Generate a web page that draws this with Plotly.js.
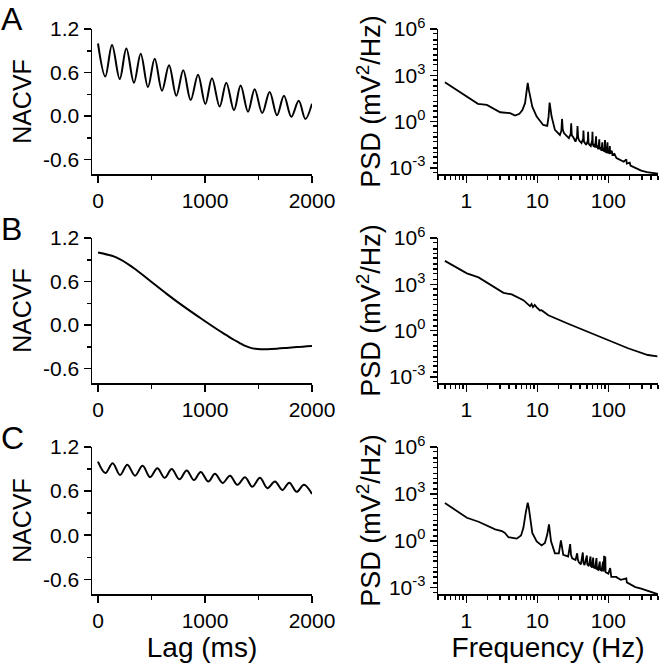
<!DOCTYPE html>
<html><head><meta charset="utf-8">
<script src="https://cdn.plot.ly/plotly-3.0.1.min.js"></script>
<style>html,body{margin:0;padding:0;background:#fff}</style>
</head><body><div id="chart" style="width:660px;height:665px"></div>
<script>
// ---- Left column: normalized autocovariance (NACVF) vs lag (ms) ----
const lagA = [0,68,131,203,265,336,399,467,530,598,664,732,797,866,935,1003,1065,1137,1199,1271,1333,1402,1464,1535,1604,1673,1738,1807,1876,1938,2000];
const nacvfA = [1.0,0.545,0.98,0.51,0.93,0.46,0.86,0.40,0.79,0.35,0.70,0.28,0.63,0.22,0.57,0.165,0.52,0.13,0.46,0.08,0.42,0.06,0.37,0.04,0.33,0.01,0.28,-0.01,0.21,-0.04,0.17];

const lagB = [0,175,330,486,642,797,953,1109,1200,1265,1320,1370,1420,1470,1520,1580,1670,1760,1857,2000];
const nacvfB = [1.0,0.93,0.79,0.61,0.43,0.26,0.10,-0.055,-0.14,-0.20,-0.245,-0.285,-0.312,-0.328,-0.334,-0.334,-0.327,-0.317,-0.305,-0.29];

const lagC = [0,69,137,206,274,346,417,486,555,623,689,760,829,897,960,1031,1093,1165,1234,1302,1374,1442,1514,1583,1654,1723,1788,1857,1925,2000];
const nacvfC = [1.0,0.845,0.98,0.82,0.96,0.81,0.945,0.79,0.91,0.78,0.90,0.76,0.88,0.75,0.86,0.73,0.835,0.71,0.81,0.685,0.79,0.66,0.78,0.64,0.73,0.615,0.715,0.59,0.685,0.56];

// ---- Right column: power spectral density (mV^2/Hz) vs frequency (Hz) ----
const freqA = [0.5,1.0,1.46,1.95,2.55,3.0,4.14,4.87,5.6,6.17,6.72,7.05,7.33,7.6,7.9,8.5,9.8,12.1,13.8,14.4,14.9,15.4,15.9,17.7,20.8,21.8,22.3,22.8,23.7,27.8,29.5,30.0,30.6,32,34.5,36.2,36.8,37.6,38.9,41.9,44.2,44.6,45.4,46.9,49,51.5,51.9,52.6,54.3,56.6,59.3,59.8,60.5,62.4,64,65,67.2,68,70,72,74.6,75.5,78,80,82.2,83,86,87.5,89.8,90.6,94,97.3,98.2,103,105,106,112,114,122,126,130,133,150,165,179,182,200,205,240,290,350,420,500];
const psdA = [355,42,14,12,6.3,4.0,3.5,2.45,3.2,5.6,15.5,63,316,112,40,9.3,2.1,0.60,0.52,2.0,17,4.0,2.1,0.29,0.135,0.25,1.48,0.32,0.18,0.083,0.16,0.78,0.126,0.098,0.05,0.1,0.52,0.089,0.059,0.04,0.079,0.26,0.05,0.04,0.031,0.063,0.22,0.04,0.031,0.026,0.063,0.22,0.032,0.024,0.035,0.02,0.11,0.02,0.028,0.016,0.07,0.016,0.022,0.0126,0.045,0.0126,0.018,0.011,0.063,0.011,0.01,0.045,0.01,0.0089,0.026,0.0085,0.0126,0.0071,0.0079,0.005,0.0043,0.0041,0.0032,0.0025,0.0035,0.0019,0.0022,0.0014,0.001,0.00066,0.00052,0.00045,0.00042];

const freqB = [0.5,1.02,1.49,2.06,3.34,4.37,6.37,7.9,8.3,8.7,9.2,9.8,10.3,10.9,11.5,14.3,27.2,80,189,360,490];
const psdB = [33000,5100,2800,1150,280,220,93,38,52,33,46,32,26,20,21,9.8,2.75,0.37,0.071,0.026,0.021];

const freqC = [0.5,1.02,1.49,2.06,2.55,3.17,3.5,3.92,4.6,5.13,5.9,6.37,6.88,7.33,7.6,7.9,8.5,9.8,11.5,12.8,13.8,14.6,15.1,15.6,17.7,20.1,21.5,22.3,23.2,27.2,29,29.8,31,34.5,36.4,37.2,38.5,41,43.7,44.6,46.2,49.8,50.5,53,56.1,56.9,59,61.1,62,65,68.1,69,72,75.7,76.6,80,84.3,85.3,87.3,88.3,90.5,91.5,100,106,108,110,130,132,150,179,182,200,240,290,350,447,500];
const psdC = [263,30,16.6,8.7,5.4,4.2,3.2,1.7,1.5,1.38,2.2,6.8,63,280,126,39,3.2,0.93,0.51,0.72,2.5,11.2,3.2,0.93,0.16,0.16,1.07,0.25,0.126,0.1,0.62,0.126,0.076,0.06,0.16,0.063,0.042,0.031,0.18,0.04,0.028,0.115,0.032,0.024,0.1,0.024,0.02,0.085,0.02,0.018,0.079,0.016,0.014,0.047,0.014,0.0126,0.047,0.011,0.11,0.011,0.1,0.01,0.0079,0.018,0.0071,0.005,0.005,0.0045,0.0032,0.004,0.0022,0.0018,0.0011,0.00087,0.00063,0.00041,0.00038];

// ---- Tick labels ----
const lagTickVals = [0,1000,2000];
const lagTickText = ['0','1000','2000'];
const lagMinorVals = [500,1500];
const nacvfTickVals = [-0.6,0,0.6,1.2];
const nacvfTickText = ['-0.6','0.0','0.6','1.2'];
const nacvfMinorVals = [-0.3,0.3,0.9];
const freqTickVals = [1,10,100];
const freqTickText = ['1','10','100'];
const psdTickVals = [1e-3,1,1e3,1e6];
const psdTickText = ['10<sup>-3</sup>','10<sup>0</sup>','10<sup>3</sup>','10<sup>6</sup>'];

const freqMinorVals = [];
[0.1,1,10,100].forEach(d => [2,3,4,5,6,7,8,9].forEach(m => freqMinorVals.push(m*d)));
const psdMinorVals = [];
[-4,-3,-2,-1,0,1,2,3,4,5,6].forEach(e => [1,2,5].forEach(m => psdMinorVals.push(m*Math.pow(10,e))));

const FONT = 'Liberation Sans, Arial, Helvetica, sans-serif';
const lineStyle = {color:'#000', width:2};

const traces = [
  {x:lagA, y:nacvfA, xaxis:'x', yaxis:'y', mode:'lines', line:Object.assign({shape:'spline', smoothing:1}, lineStyle)},
  {x:freqA, y:psdA, xaxis:'x2', yaxis:'y2', mode:'lines', line:{color:'#000', width:1.8}},
  {x:lagB, y:nacvfB, xaxis:'x3', yaxis:'y3', mode:'lines', line:Object.assign({shape:'spline', smoothing:1}, lineStyle)},
  {x:freqB, y:psdB, xaxis:'x4', yaxis:'y4', mode:'lines', line:{color:'#000', width:1.8}},
  {x:lagC, y:nacvfC, xaxis:'x5', yaxis:'y5', mode:'lines', line:Object.assign({shape:'spline', smoothing:1}, lineStyle)},
  {x:freqC, y:psdC, xaxis:'x6', yaxis:'y6', mode:'lines', line:{color:'#000', width:1.8}}
];

const leftDom = [92/660, 312/660];
const rightDom = [438/660, 658/660];
const rowDom = [
  [1-174/665, 1-29/665],
  [1-383/665, 1-238/665],
  [1-594/665, 1-447/665]
];

const common = {
  showline:true, linewidth:1.5, linecolor:'#000', mirror:false,
  ticks:'outside', ticklen:7, tickwidth:1.5, tickcolor:'#000',
  showgrid:false, zeroline:false, tickfont:{size:21, color:'#000', family:FONT},
  tickmode:'array', fixedrange:true
};

function lagAxis(row, anchor, withTitle){
  return Object.assign({}, common, {
    domain:leftDom, anchor:anchor, range:[-56,2000],
    tickvals:lagTickVals, ticktext:lagTickText,
    minor:{tickmode:'array', tickvals:lagMinorVals, ticks:'outside', ticklen:4, tickwidth:1.5, tickcolor:'#000', showgrid:false},
    title: withTitle ? {text:'Lag (ms)', font:{size:28, family:FONT, color:'#000'}, standoff:4} : {text:''}
  });
}
function nacvfAxis(row, anchor){
  return Object.assign({}, common, {
    domain:rowDom[row], anchor:anchor, range:[-0.8,1.2],
    tickvals:nacvfTickVals, ticktext:nacvfTickText,
    minor:{tickmode:'array', tickvals:nacvfMinorVals, ticks:'outside', ticklen:4, tickwidth:1.5, tickcolor:'#000', showgrid:false},
    title:{text:'NACVF', font:{size:25, family:FONT, color:'#000'}, standoff:4}
  });
}
function freqAxis(row, anchor, withTitle){
  return Object.assign({}, common, {
    domain:rightDom, anchor:anchor, type:'log', range:[Math.log10(0.4), Math.log10(500)],
    tickvals:freqTickVals, ticktext:freqTickText,
    minor:{tickmode:'array', tickvals:freqMinorVals, ticks:'outside', ticklen:4, tickwidth:1.5, tickcolor:'#000', showgrid:false},
    title: withTitle ? {text:'Frequency (Hz)', font:{size:28, family:FONT, color:'#000'}, standoff:4} : {text:''}
  });
}
function psdAxis(row, anchor){
  return Object.assign({}, common, {
    domain:rowDom[row], anchor:anchor, type:'log', range:[-3.4, 6],
    tickvals:psdTickVals, ticktext:psdTickText,
    minor:{tickmode:'array', tickvals:psdMinorVals, ticks:'outside', ticklen:4, tickwidth:1.5, tickcolor:'#000', showgrid:false},
    title:{text:'PSD (mV<sup>2</sup>/Hz)', font:{size:27, family:FONT, color:'#000'}, standoff:0}
  });
}

const letterFont = {size:32, family:FONT, color:'#000'};
const layout = {
  width:660, height:665,
  margin:{l:0, r:0, t:0, b:0},
  paper_bgcolor:'#fff', plot_bgcolor:'#fff',
  showlegend:false,
  font:{family:FONT, color:'#000'},
  xaxis: lagAxis(0,'y',false),  yaxis: nacvfAxis(0,'x'),
  xaxis2: freqAxis(0,'y2',false), yaxis2: psdAxis(0,'x2'),
  xaxis3: lagAxis(1,'y3',false), yaxis3: nacvfAxis(1,'x3'),
  xaxis4: freqAxis(1,'y4',false), yaxis4: psdAxis(1,'x4'),
  xaxis5: lagAxis(2,'y5',true),  yaxis5: nacvfAxis(2,'x5'),
  xaxis6: freqAxis(2,'y6',true), yaxis6: psdAxis(2,'x6'),
  annotations:[
    {text:'A', xref:'paper', yref:'paper', x:0, y:1, xanchor:'left', yanchor:'top', showarrow:false, font:letterFont, borderpad:0},
    {text:'B', xref:'paper', yref:'paper', x:0, y:1-210/665, xanchor:'left', yanchor:'top', showarrow:false, font:letterFont, borderpad:0},
    {text:'C', xref:'paper', yref:'paper', x:0, y:1-419/665, xanchor:'left', yanchor:'top', showarrow:false, font:letterFont, borderpad:0}
  ]
};

Plotly.newPlot('chart', traces, layout, {displayModeBar:false, staticPlot:true});
</script>
</body></html>
